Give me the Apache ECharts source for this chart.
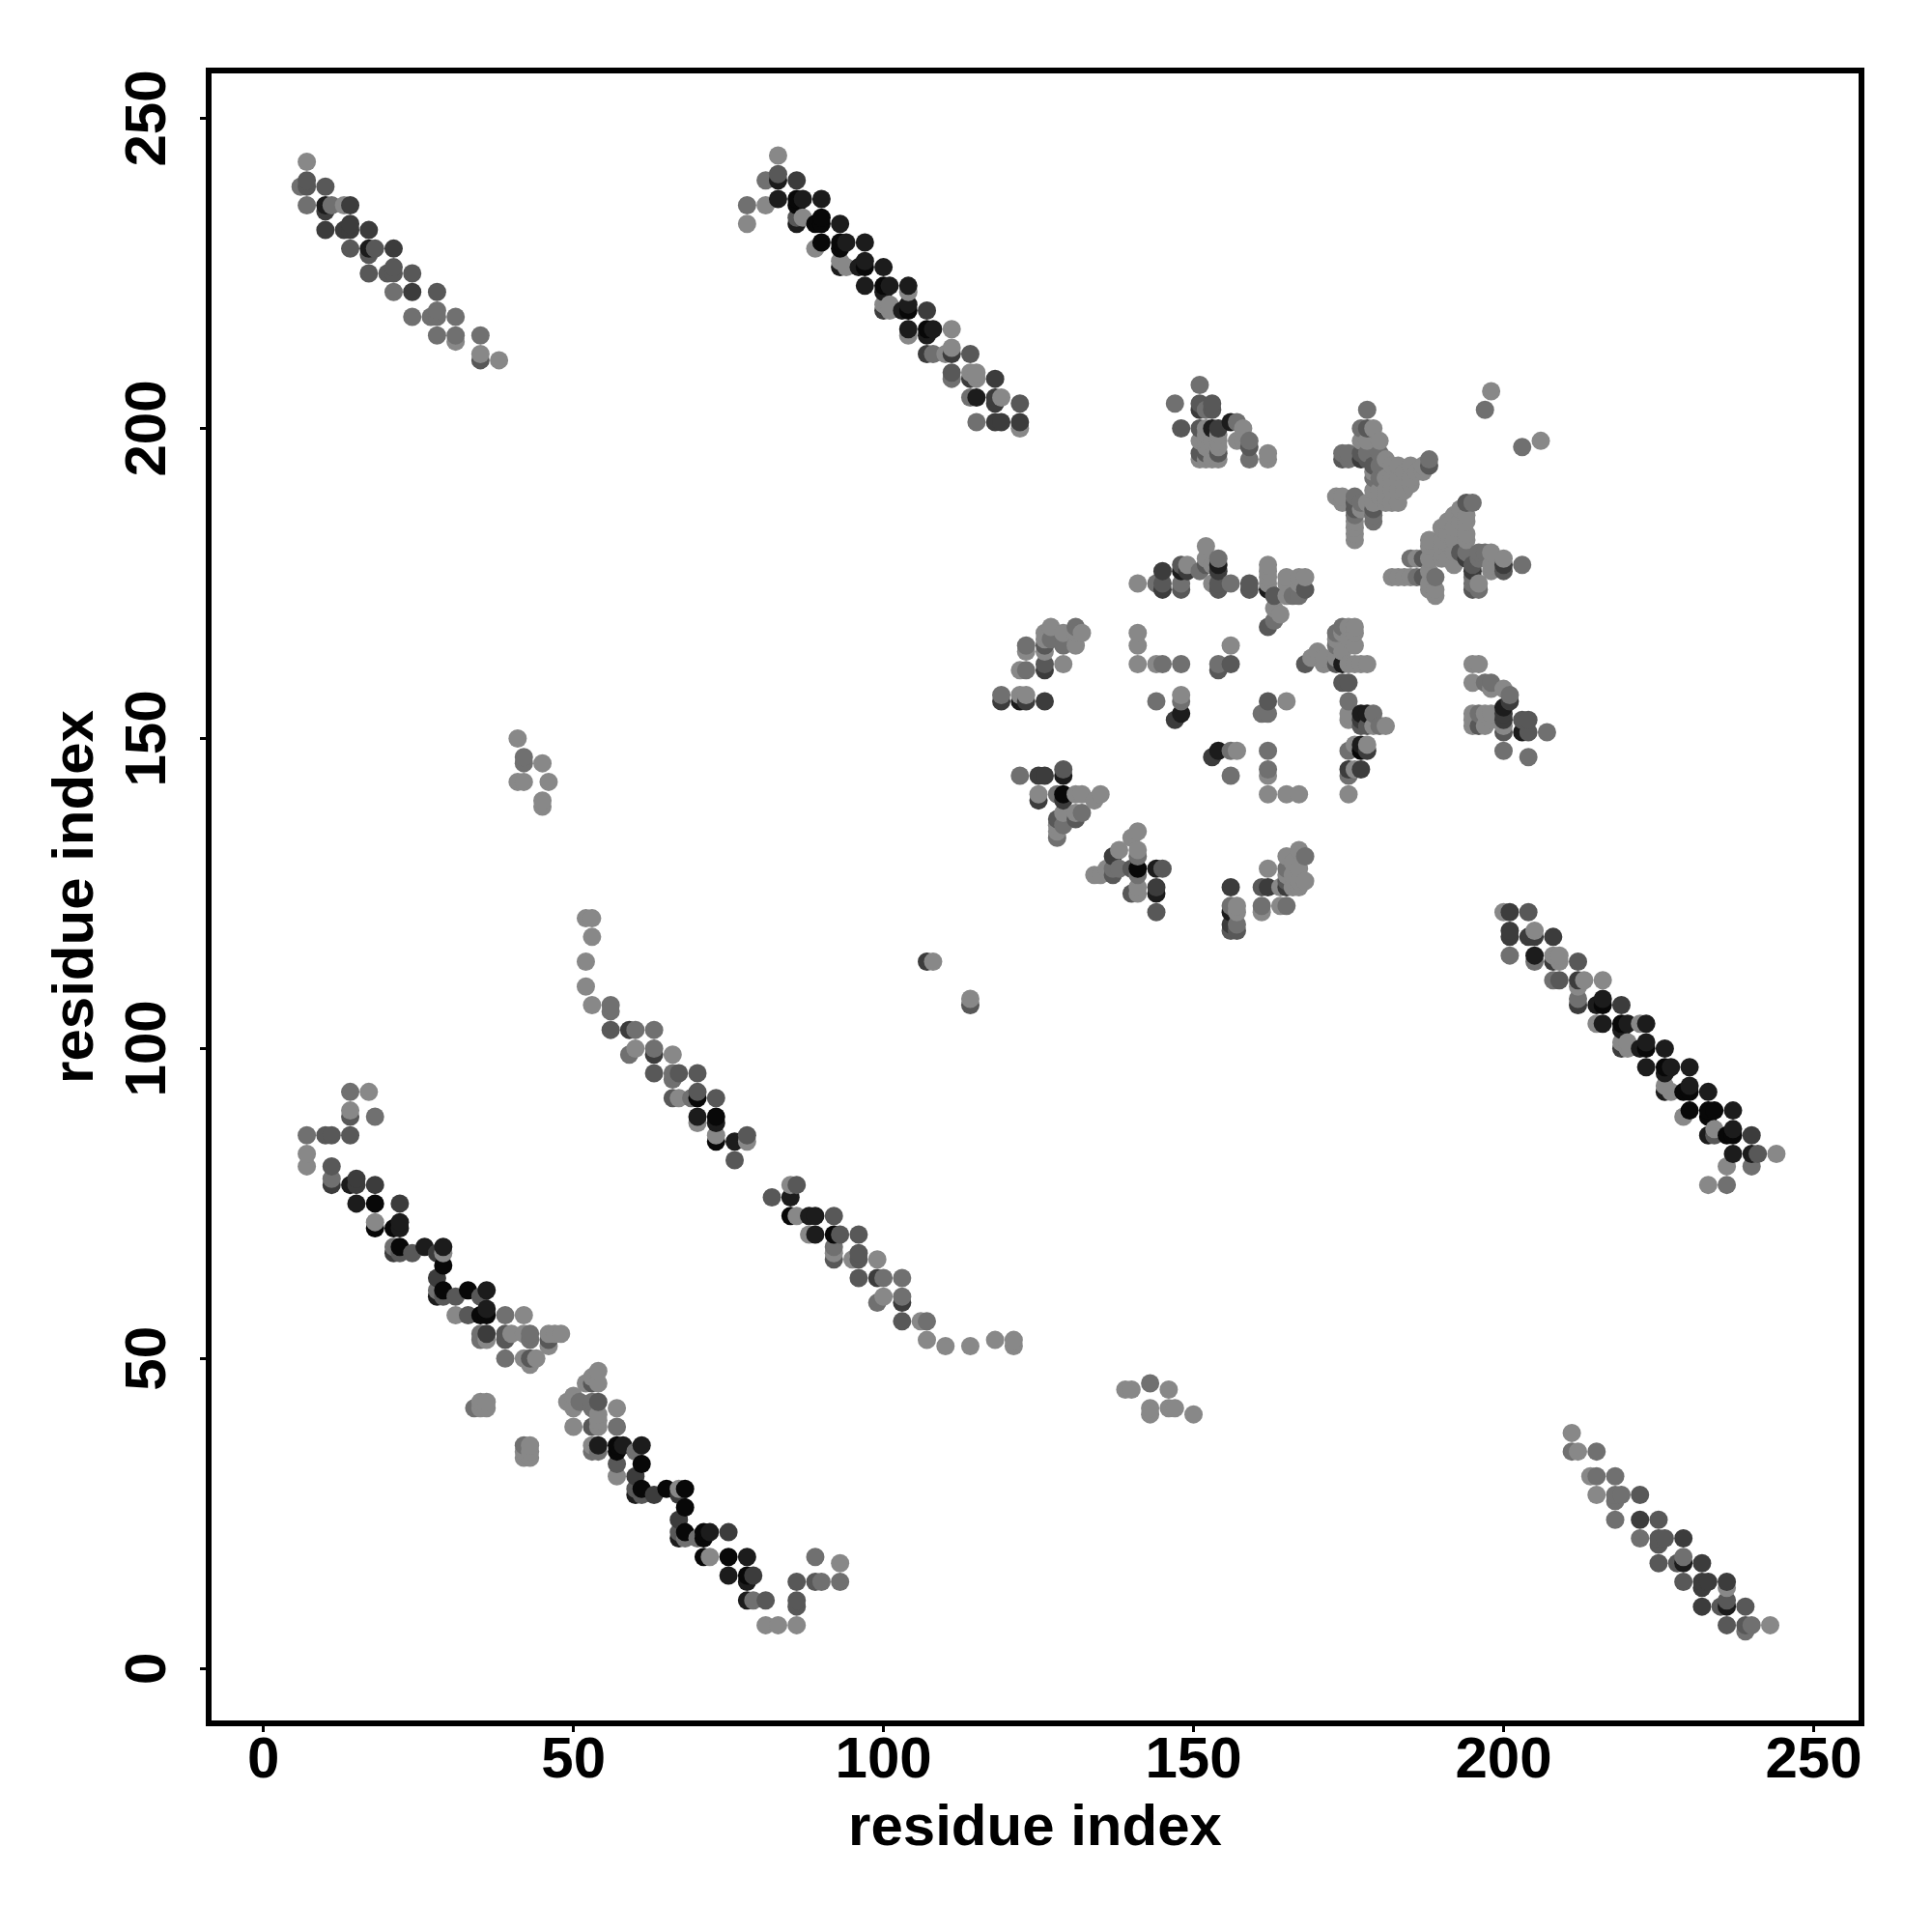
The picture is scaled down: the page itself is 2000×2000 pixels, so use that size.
<!DOCTYPE html>
<html><head><meta charset="utf-8">
<style>html,body{margin:0;padding:0;background:#fff}#c{width:2000px;height:2000px}</style>
<script src="https://cdn.jsdelivr.net/npm/echarts@6/dist/echarts.min.js"></script>
</head><body><div id="c"></div>
<script>
// each contact: [residue x, residue y, strength 1 (weak) .. 6 (strong)]
const bandTopLeft = [[7,243,1],[7,240,3],[6,239,2],[7,239,3],[10,239,3],[7,236,2],[10,236,5],[11,236,2],[10,235,4],[13,236,1],[14,236,4],[10,232,4],[13,232,4],[14,232,4],[14,233,4],[17,232,4],[14,229,3],[17,229,5],[18,229,3],[17,228,3],[21,229,4],[17,225,3],[20,225,3],[21,225,3],[21,226,3],[24,225,3],[21,222,2],[24,222,4],[28,222,3],[24,218,2],[27,218,2],[28,218,2],[28,219,2],[31,218,2],[28,215,2],[31,215,2],[31,214,1],[35,215,2],[35,212,1],[35,211,3],[38,211,1]];
const bandBottomRightOuter = [[211,38,1],[211,35,2],[212,35,1],[215,35,2],[214,31,1],[215,31,2],[218,31,2],[215,28,1],[218,28,2],[219,28,2],[218,27,2],[222,28,3],[218,24,2],[222,24,4],[225,24,3],[222,21,2],[225,21,3],[226,21,3],[225,20,3],[229,21,4],[225,17,3],[228,17,3],[229,18,2],[229,17,5],[232,17,4],[229,14,3],[232,14,4],[233,14,4],[232,13,4],[236,14,4],[236,13,1],[232,10,4],[235,10,3],[236,11,3],[236,10,5],[239,10,3],[236,7,3],[239,7,3],[240,7,2],[239,6,2],[243,7,1]];
const bandTopMiddle = [[83,244,1],[81,240,2],[83,241,3],[83,240,5],[86,240,4],[83,237,5],[78,236,2],[81,236,1],[78,233,1],[86,237,6],[86,236,6],[87,237,5],[90,237,5],[86,234,3],[87,234,1],[86,233,5],[89,233,6],[90,233,6],[90,234,6],[93,233,5],[90,230,6],[89,229,1],[93,230,6],[93,229,6],[94,230,5],[97,230,5],[93,227,1],[94,226,1],[93,226,5],[96,226,5],[97,226,6],[97,227,5],[100,226,5],[97,223,5],[100,223,6],[101,223,5],[100,222,5],[104,223,5],[104,222,1],[100,220,1],[101,220,1],[100,219,4],[101,219,1],[103,219,5],[104,219,6],[104,220,5],[107,219,4],[104,216,5],[104,215,1],[107,216,6],[108,216,5],[107,215,5],[111,216,1],[107,212,4],[108,212,2],[110,212,1],[111,213,1],[111,212,4],[114,212,3],[111,209,3],[111,208,2],[114,208,4],[114,209,1],[115,209,1],[115,208,1],[118,208,4],[114,205,2],[115,205,5],[118,205,4],[118,204,4],[119,205,1],[122,204,3],[115,201,2],[118,201,4],[119,201,4],[122,201,4],[122,200,1]];
const bandRightMiddle = [[244,83,1],[240,81,2],[241,83,3],[240,83,5],[240,86,4],[237,83,5],[236,78,2],[236,81,1],[233,78,1],[237,86,6],[236,86,6],[237,87,5],[237,90,5],[234,86,3],[234,87,1],[233,86,5],[233,89,6],[233,90,6],[234,90,6],[233,93,5],[230,90,6],[229,89,1],[230,93,6],[229,93,6],[230,94,5],[230,97,5],[227,93,1],[226,94,1],[226,93,5],[226,96,5],[226,97,6],[227,97,5],[226,100,5],[223,97,5],[223,100,6],[223,101,5],[222,100,5],[223,104,5],[222,104,1],[220,100,1],[220,101,1],[219,100,4],[219,101,1],[219,103,5],[219,104,6],[220,104,5],[219,107,4],[216,104,5],[215,104,1],[216,107,6],[216,108,5],[215,107,5],[216,111,1],[212,107,4],[212,108,2],[212,110,1],[213,111,1],[212,111,4],[212,114,3],[209,111,3],[208,111,2],[208,114,4],[209,114,1],[209,115,1],[208,115,1],[208,118,4],[205,114,2],[205,115,5],[205,118,4],[204,118,4],[205,119,1],[204,122,3],[201,115,2],[201,118,4],[201,119,4],[201,122,4],[200,122,1]];
const bandCentre = [[52,121,1],[53,121,1],[53,118,1],[52,114,1],[52,110,1],[53,107,1],[56,107,2],[56,106,2],[56,103,3],[59,103,4],[60,103,2],[63,103,2],[59,99,2],[60,100,1],[63,100,2],[63,99,4],[66,99,1],[63,96,3],[66,96,2],[66,95,2],[67,96,3],[70,96,3],[66,92,3],[67,92,1],[69,92,2],[70,93,3],[70,92,6],[73,92,3],[70,89,5],[70,88,1],[73,89,6],[73,88,5],[73,86,1],[73,85,6],[76,85,5],[78,86,3],[78,85,1],[76,82,3],[82,76,3],[85,78,1],[86,78,3],[85,76,5],[85,73,6],[86,73,1],[88,73,5],[89,73,5],[92,73,3],[88,70,1],[89,70,5],[92,70,6],[93,70,3],[96,70,3],[92,68,2],[92,67,1],[92,66,3],[95,66,1],[96,67,3],[96,66,3],[99,66,1],[96,63,3],[99,63,4],[100,63,2],[103,63,2],[99,59,2],[100,60,1],[103,60,2],[103,59,4],[103,56,3],[106,56,1],[107,56,2],[107,53,1],[110,52,1],[114,52,1],[118,53,1],[121,53,1],[121,52,1],[107,114,4],[108,114,1],[114,108,1],[114,107,3]];
const bandLowerLeft = [[14,93,2],[17,93,1],[14,90,1],[14,89,3],[18,89,2],[7,86,2],[10,86,3],[11,86,3],[14,86,3],[7,83,1],[7,81,1],[11,81,3],[11,79,2],[11,78,4],[14,78,5],[15,79,4],[15,78,4],[18,78,4],[15,75,5],[18,75,6],[22,75,4],[18,72,1],[18,71,6],[21,71,6],[22,72,5],[22,71,5],[21,68,2],[21,67,4],[22,68,6],[22,67,3],[24,67,3],[26,68,5],[28,67,4],[29,68,5],[29,67,1],[29,65,6],[28,63,4],[28,61,2],[28,60,5],[29,61,6],[29,60,3],[31,60,3],[33,61,6],[35,60,3],[36,61,5],[36,58,5],[35,57,6],[36,57,6],[31,57,1],[33,57,3],[39,57,2],[42,57,1],[35,54,2],[35,53,2],[36,54,4],[36,53,1],[39,54,3],[39,53,3],[40,54,1],[42,54,1],[43,54,2],[43,53,2],[46,54,1],[46,53,3],[47,54,1],[48,54,1],[46,52,1],[39,50,2],[42,50,1],[43,50,3],[44,50,1],[43,49,1]];
const bandLowerMiddle = [[54,48,1],[53,47,1],[54,46,1],[52,46,1],[53,46,3],[50,44,1],[49,43,1],[50,42,1],[51,43,2],[50,39,1],[53,43,2],[54,43,3],[53,42,2],[54,41,1],[54,40,1],[57,42,1],[53,39,3],[54,39,1],[57,39,2],[53,36,1],[53,35,2],[54,36,5],[54,35,2],[57,36,6],[58,36,5],[57,35,6],[60,35,2],[61,36,5],[57,33,3],[57,31,1],[61,33,6],[60,31,4],[60,29,3],[60,28,5],[61,29,6],[61,28,3],[63,28,4],[65,29,6],[67,29,1],[67,28,4],[68,29,6],[68,26,6],[67,24,4],[67,22,3],[67,21,5],[68,22,6],[68,21,2],[70,21,2],[71,22,6],[72,22,5],[71,21,6],[75,22,4],[71,18,6],[72,18,1],[75,18,6],[78,18,5],[75,15,5],[78,15,6],[79,15,4],[78,14,5],[78,11,5],[79,11,2],[81,11,3],[89,18,2],[93,17,1],[86,14,3],[89,14,3],[90,14,2],[93,14,2],[86,11,3],[86,10,3],[81,7,1],[83,7,1],[86,7,1]];
const islandsNear = [[34,42,2],[35,42,1],[36,42,1],[36,43,1],[35,43,1],[42,34,1],[42,35,1],[42,36,2],[43,36,1],[43,35,1],[43,34,1]];
const islandsFar = [[41,150,1],[42,147,2],[42,146,2],[41,143,1],[42,143,1],[45,146,1],[46,143,1],[45,140,1],[45,139,1],[150,41,1],[147,42,1],[146,42,1],[143,41,1],[143,42,1],[146,45,1],[143,46,2],[140,45,1],[139,45,1]];
const coreTop = [[151,207,2],[147,204,2],[151,204,3],[151,203,4],[152,203,2],[153,204,3],[153,203,3],[148,200,3],[151,200,3],[152,200,1],[153,200,5],[154,200,4],[152,199,1],[152,198,1],[152,197,1],[152,196,3],[152,195,1],[151,198,1],[151,196,3],[151,195,1],[153,198,1],[154,199,1],[154,198,1],[154,197,1],[154,196,3],[154,195,1],[153,195,1],[156,201,5],[157,201,2],[158,200,1],[157,198,1],[158,198,1],[159,198,2],[159,197,3],[159,195,2],[162,196,1],[162,195,1],[198,206,1],[197,203,2],[203,197,2],[206,198,1]];
const coreUpperRight = [[178,203,2],[177,200,2],[178,200,3],[179,200,1],[177,198,1],[178,198,1],[180,198,1],[174,196,2],[174,195,3],[175,196,2],[175,195,2],[177,196,3],[177,195,4],[178,195,3],[178,196,2],[179,194,3],[180,194,2],[181,195,1],[182,194,1],[183,194,1],[180,196,2],[179,193,1],[179,192,2],[180,192,2],[182,192,1],[184,193,1],[185,194,1],[186,193,1],[185,192,1],[184,190,1],[185,191,1],[187,194,1],[188,195,2],[188,194,3],[187,193,1],[179,190,1],[180,189,1],[181,190,1],[182,188,1],[179,188,1],[181,188,1],[173,189,1],[174,189,1],[174,188,1],[176,189,2],[176,188,3],[176,187,3],[176,186,2],[176,185,1],[176,184,1],[176,183,1],[176,182,1],[177,188,2],[177,187,1],[178,188,1],[179,187,3],[179,186,2],[179,185,2],[183,190,1],[182,190,1],[181,192,1],[183,192,1],[184,191,1],[181,189,1],[183,188,1],[180,190,1]];
const coreFarRight = [[194,188,3],[195,188,2],[193,187,1],[194,186,1],[191,185,1],[190,184,1],[194,185,1],[194,183,1],[188,182,1],[191,183,1],[188,181,1],[190,182,1],[194,182,1],[185,179,2],[186,179,1],[187,179,3],[188,179,1],[190,179,1],[182,176,1],[183,176,1],[184,176,1],[185,176,1],[186,176,2],[187,176,3],[189,176,2],[188,177,1],[188,175,1],[189,173,1],[189,174,1],[188,174,1],[192,180,1],[193,180,3],[194,179,4],[195,178,3],[195,177,4],[196,180,2],[194,180,2],[197,180,2],[198,180,1],[196,179,2],[195,175,2],[195,174,3],[196,174,2],[196,175,1],[195,176,2],[200,179,1],[200,178,4],[200,177,3],[198,178,1],[198,177,1],[203,178,2],[192,184,1],[193,185,1],[190,182,1],[192,182,1],[190,180,1],[191,179,1],[192,178,1],[190,181,1],[192,186,1]];
const coreMiddleTop = [[156,175,2],[159,175,3],[159,174,3],[162,178,1],[162,177,1],[162,176,1],[162,175,1],[162,174,5],[163,173,3],[164,170,1],[163,171,1],[163,169,2],[162,168,3],[165,176,1],[165,175,1],[165,173,1],[167,176,1],[167,175,1],[167,173,2],[168,176,1],[168,174,3],[166,173,2],[141,175,1],[144,175,2],[145,177,4],[145,175,3],[145,174,4],[148,178,3],[148,177,5],[149,178,1],[149,177,4],[148,175,2],[148,174,3],[152,181,1],[152,179,1],[152,178,3],[151,177,2],[154,179,2],[154,178,5],[154,177,4],[153,175,1],[154,175,3],[154,174,3],[153,178,1]];
const coreLeft = [[127,168,1],[131,168,2],[132,167,1],[126,167,1],[126,166,1],[129,167,1],[131,167,1],[127,166,2],[131,165,1],[129,165,2],[123,165,2],[123,164,1],[126,165,3],[126,164,1],[129,162,1],[126,162,3],[126,161,4],[122,161,1],[123,161,2],[119,157,2],[119,156,4],[122,157,1],[123,157,1],[122,156,5],[123,156,4],[126,156,4],[141,167,1],[141,165,1],[141,162,1],[144,162,1],[145,162,2],[148,162,2],[156,165,1],[154,162,2],[154,161,3],[156,162,3],[144,156,2],[148,157,1],[148,156,2],[148,154,5],[147,153,4],[153,147,4],[154,148,5],[156,148,2],[157,148,1],[156,144,2]];
const coreLowerLeft = [[122,144,2],[125,144,4],[126,144,4],[129,145,3],[129,144,5],[125,141,1],[125,140,4],[128,141,2],[129,141,6],[129,140,4],[131,141,1],[132,141,1],[134,140,1],[135,141,1],[128,137,3],[129,138,1],[131,137,3],[132,138,2],[128,135,1],[128,134,2],[129,136,2],[131,138,1],[128,136,1],[141,135,1],[140,134,1],[138,132,1],[137,131,4],[141,132,1],[141,131,2],[134,128,1],[135,128,1],[136,129,1],[137,128,3],[137,129,2],[138,129,2],[140,129,3],[141,129,6],[141,128,2],[141,126,1],[140,125,3],[141,125,1],[144,129,5],[145,129,3],[144,126,4],[144,125,5],[144,122,3]];
const coreLower = [[156,126,4],[156,123,2],[157,123,1],[157,122,1],[156,122,5],[156,120,4],[157,120,2],[156,119,3],[157,119,3],[167,132,1],[165,131,1],[168,131,2],[162,129,1],[165,129,2],[166,130,1],[167,129,1],[165,128,1],[166,128,1],[168,127,1],[167,127,1],[165,127,3],[166,126,1],[164,126,1],[161,126,3],[162,126,4],[165,126,4],[167,126,1],[161,123,2],[161,122,1],[164,123,1],[165,123,2]];
const coreRightInner = [[175,168,1],[176,168,1],[174,168,2],[173,167,2],[176,167,1],[173,166,1],[174,167,1],[175,166,1],[176,165,1],[173,165,2],[174,164,1],[170,164,1],[169,163,1],[168,162,3],[171,163,1],[171,162,1],[173,163,1],[173,162,3],[174,162,5],[175,162,1],[176,162,1],[178,162,1],[177,162,1],[174,159,3],[175,159,3],[175,156,2],[175,154,1],[175,153,1],[177,154,5],[178,154,5],[179,154,2],[177,153,4],[178,152,3],[177,152,3],[179,152,1],[180,152,2],[181,152,1],[175,148,2],[176,149,1],[177,149,5],[177,148,6],[178,148,4],[178,149,1],[175,145,4],[176,145,1],[177,145,4],[175,144,2],[175,141,1],[162,156,3],[165,156,1],[161,154,2],[162,154,2],[162,148,2],[162,145,2],[162,144,1],[162,141,1],[165,141,1],[167,141,1]];
const coreRightOuter = [[195,162,1],[196,162,1],[195,159,1],[197,159,2],[198,159,2],[198,158,1],[200,158,1],[201,157,2],[201,156,4],[200,155,5],[200,154,4],[200,153,4],[200,152,1],[200,151,3],[195,154,1],[195,153,1],[195,152,1],[196,154,2],[196,152,3],[197,154,1],[198,154,1],[198,153,1],[197,152,1],[203,153,3],[204,153,3],[203,151,5],[204,151,3],[207,151,2],[200,148,2],[204,147,2]];

const axisTicks = [0, 50, 100, 150, 200, 250];
const axisName = 'residue index';
const greyLevels = ['#888888', '#707070', '#585858', '#3c3c3c', '#1c1c1c', '#080808'];

const contacts = [bandTopLeft, bandBottomRightOuter, bandTopMiddle, bandRightMiddle, bandCentre, bandLowerLeft, bandLowerMiddle, islandsNear, islandsFar, coreTop, coreUpperRight, coreFarRight, coreMiddleTop, coreLeft, coreLowerLeft, coreLower, coreRightInner, coreRightOuter]
  .flat().sort((a, b) => a[0] - b[0] || a[1] - b[1]);

const font = {fontFamily: '"Liberation Sans"', fontWeight: 'bold', fontSize: 60, color: '#000'};
function axis(extra) {
  return Object.assign({
    type: 'value', min: -8.83, max: 257.72,
    name: axisName, nameLocation: 'middle',
    nameTextStyle: font, splitLine: {show: false},
    axisLine: {show: false, onZero: false},
    axisTick: {show: true, length: 9, inside: false, customValues: axisTicks, lineStyle: {color: '#000', width: 3}}
  }, extra);
}
const chart = echarts.init(document.getElementById('c'), null, {renderer: 'canvas'});
chart.setOption({
  animation: false,
  backgroundColor: '#fff',
  grid: {left: 216, top: 73, width: 1711, height: 1711, show: true, borderColor: '#000', borderWidth: 6, backgroundColor: 'transparent'},
  xAxis: axis({nameGap: 79, axisLabel: Object.assign({}, font, {margin: 9, customValues: axisTicks})}),
  yAxis: axis({nameGap: 107, axisLabel: Object.assign({}, font, {margin: 32, rotate: 90, customValues: axisTicks})}),
  series: [{
    type: 'scatter', symbol: 'circle', symbolSize: 19, data: contacts, clip: false,
    itemStyle: {opacity: 1, color: p => greyLevels[p.value[2] - 1]}
  }]
});
</script></body></html>
